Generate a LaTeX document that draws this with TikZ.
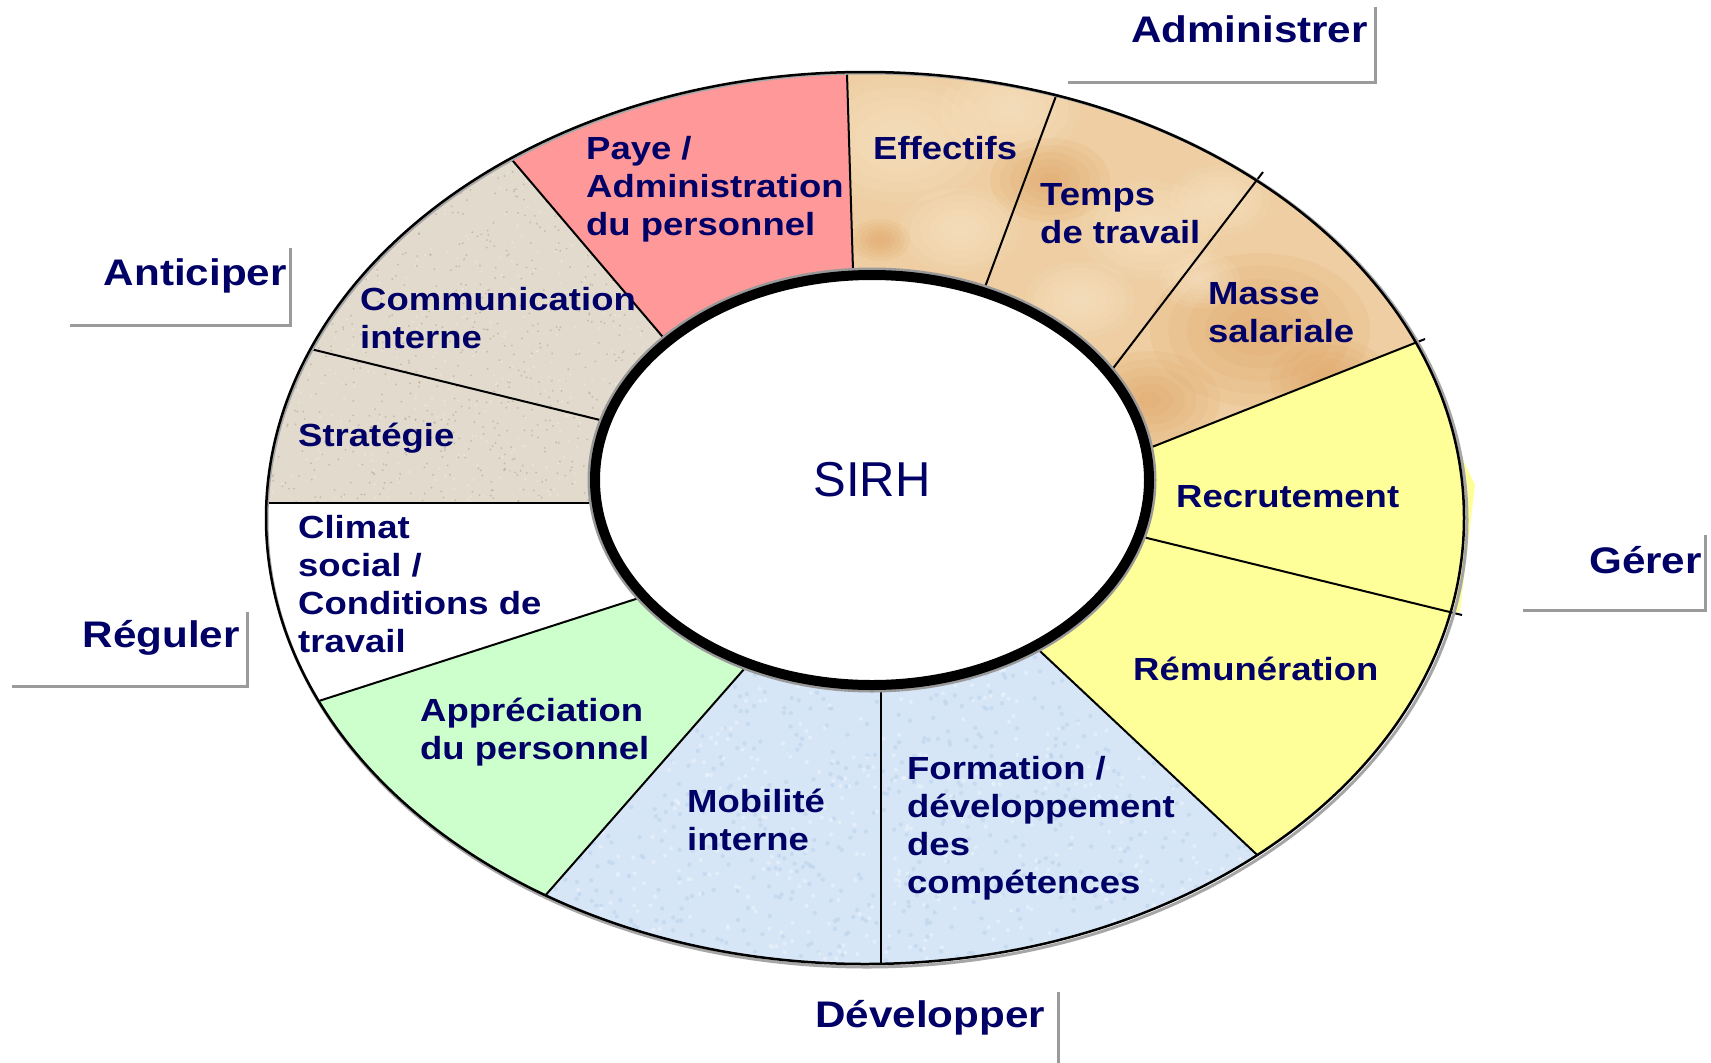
\documentclass[tikz,border=0pt]{standalone}
\usepackage{fontspec}
\usepackage{pdfrender}
\setmainfont{Liberation Sans}
\newfontfamily\heavyfont{Liberation Sans}[UprightFont={* Bold},FakeStretch=1.14]
\usetikzlibrary{calc}

\definecolor{labelblue}{RGB}{0,0,102}
\definecolor{payepink}{RGB}{255,153,153}
\definecolor{gereryellow}{RGB}{255,255,153}
\definecolor{apprgreen}{RGB}{204,255,204}
\definecolor{devblue}{RGB}{214,230,246}
\definecolor{devbluedark}{RGB}{188,210,236}
\definecolor{devbluelight}{RGB}{238,245,252}
\definecolor{granite}{RGB}{226,218,204}
\definecolor{granitedark}{RGB}{170,160,142}
\definecolor{granitelight}{RGB}{240,235,226}
\definecolor{tanbase}{RGB}{238,206,162}
\definecolor{tanlight}{RGB}{250,234,208}
\definecolor{tandark}{RGB}{222,160,96}
\definecolor{framegray}{RGB}{155,155,155}

% multi-line label whose baseline is the first line
\newcommand\linesof[1]{\begin{tabular}[t]{@{}l@{}}#1\end{tabular}}
% soft blob: x, y, radius, colour
\newcommand\softblob[4]{%
  \foreach \s in {1,...,6}{%
    \pgfmathsetmacro\rr{#3*\s/6}%
    \fill[#4,opacity=0.12] (#1,#2) ellipse [x radius=\rr pt, y radius=0.7*\rr pt];}}
% random speckles: count, x0, y0, width, height, colour, radius
\newcommand\speckles[7]{%
  \foreach \k in {1,...,#1}{%
    \pgfmathsetmacro\px{#2+#4*rnd}%
    \pgfmathsetmacro\py{#3+#5*rnd}%
    \fill[#6,opacity=.55] (\px,\py) circle (#7);}}

\begin{document}
\begin{tikzpicture}[x=1pt,y=-1pt,
  seglabel/.style={font=\heavyfont\fontsize{32}{38}\selectfont\pdfrender{TextRenderingMode=FillStroke,LineWidth=1.5pt,LineJoinStyle=Round},
    text=labelblue,inner sep=0pt,anchor=base west},
  verb/.style={font=\heavyfont\fontsize{37}{44}\selectfont\pdfrender{TextRenderingMode=FillStroke,LineWidth=1.7pt,LineJoinStyle=Round},
    text=labelblue,inner sep=0pt},
  frameline/.style={draw=framegray,line width=3pt},
  divider/.style={draw=black,line width=2pt}]

\useasboundingbox (0,0) rectangle (1711,1063);
\fill[white] (0,0) rectangle (1711,1063);

% ring geometry
\coordinate (oc) at (865,518);   % outer centre
\coordinate (c) at (872,480);    % inner centre

% dividers: inner end (i) and outer end (o)
\coordinate (d1i) at (853,270);  \coordinate (d1o) at (847,74);
\coordinate (d2i) at (985,287);  \coordinate (d2o) at (1056,96);
\coordinate (d3i) at (1111,371); \coordinate (d3o) at (1263,172);
\coordinate (d4i) at (1152,447); \coordinate (d4o) at (1425,339);
\coordinate (d5i) at (1147,538); \coordinate (d5o) at (1462,615);
\coordinate (d6i) at (1042,653); \coordinate (d6o) at (1253,851);
\coordinate (d7i) at (881,691);  \coordinate (d7o) at (881,962);
\coordinate (d8i) at (745,668);  \coordinate (d8o) at (551,889);
\coordinate (d9i) at (642,597);  \coordinate (d9o) at (325,699);
\coordinate (d10i) at (593,503); \coordinate (d10o) at (268,503);
\coordinate (d11i) at (600,420); \coordinate (d11o) at (327,353);
\coordinate (d12i) at (662,336); \coordinate (d12o) at (513,161);

\foreach \n in {1,...,12}{\coordinate (d\n f) at ($(d\n i)!4!(d\n o)$);}

% yellow spill on the right rim
\fill[gereryellow] (1410,345) -- (1475,485) -- (1460,612) -- (1400,612) -- (1400,345) -- cycle;

\begin{scope}
  \clip (oc) ellipse [x radius=599pt, y radius=446pt];
  % Paye
  \fill[payepink] (d12i) -- (d12f) -- (d1f) -- (d1i) -- (c) -- cycle;
  % Administrer group
  \begin{scope}
    \clip (d1i) -- (d1f) -- (d2f) -- (d3f) -- (d4f) -- (d4i) -- (c) -- cycle;
    \fill[tanbase] (800,40) rectangle (1480,520);
    \softblob{900}{140}{90}{tanlight}
    \softblob{1010}{110}{70}{tanlight}
    \softblob{960}{230}{60}{tanlight}
    \softblob{1150}{230}{70}{tanlight}
    \softblob{1220}{200}{50}{tanlight}
    \softblob{1080}{300}{55}{tanlight}
    \softblob{1260}{330}{110}{tandark}
    \softblob{1150}{400}{70}{tandark}
    \softblob{1050}{180}{60}{tandark}
    \softblob{880}{240}{30}{tandark}
    \softblob{1330}{380}{60}{tandark}
    \softblob{1200}{280}{40}{tanlight}
  \end{scope}
  % Gerer group
  \fill[gereryellow] (d4i) -- (d4f) -- (d5f) -- (d6f) -- (d6i) -- (c) -- cycle;
  % Developper group
  \begin{scope}
    \clip (d6i) -- (d6f) -- (d7f) -- (d8f) -- (d8i) -- (c) -- cycle;
    \fill[devblue] (450,600) rectangle (1350,1000);
    \pgfmathsetseed{7}
    \speckles{900}{480}{620}{800}{360}{devbluedark}{2.2pt}
    \speckles{700}{480}{620}{800}{360}{devbluelight}{2pt}
  \end{scope}
  % Appreciation
  \fill[apprgreen] (d8i) -- (d8f) -- (d9f) -- (d9i) -- (c) -- cycle;
  % Anticiper group
  \begin{scope}
    \clip (d10i) -- (d10f) -- (d11f) -- (d12f) -- (d12i) -- (c) -- cycle;
    \fill[granite] (240,100) rectangle (700,520);
    \pgfmathsetseed{3}
    \speckles{1000}{250}{130}{450}{390}{granitedark}{1pt}
    \speckles{600}{250}{130}{450}{390}{granitelight}{1.3pt}
  \end{scope}
  % dividers reaching the rim
  \foreach \n in {1,2,6,7,8,9,10,11,12}{
    \draw[divider] ($(d\n i)!-0.05!(d\n o)$) -- ($(d\n i)!1.2!(d\n o)$);}
\end{scope}

% dividers with a small tick past the rim
\foreach \n in {3,4,5}{
  \draw[divider] ($(d\n i)!-0.05!(d\n o)$) -- (d\n o);}

% outer rim
\draw[line width=3pt,draw=black!35] ($(oc)+(2,2)$) ellipse [x radius=600pt, y radius=447pt];
\draw[line width=2.5pt] (oc) ellipse [x radius=599pt, y radius=446pt];

% inner hub
\fill[white] (c) ellipse [x radius=277pt, y radius=205pt];
\draw[line width=3pt,draw=black!40] (c) ellipse [x radius=283pt, y radius=211pt];
\draw[line width=10pt] (c) ellipse [x radius=277pt, y radius=205pt];
\node[font=\fontsize{49}{56}\selectfont,text=labelblue,inner sep=0pt] (sirh) at (c) {SIRH};

% segment labels
\node[seglabel] (paye) at (586,159) {\linesof{Paye /\\Administration\\du personnel}};
\node[seglabel] (effectifs) at (873,159) {Effectifs};
\node[seglabel] (temps) at (1040,205) {\linesof{Temps\\de travail}};
\node[seglabel] (masse) at (1208,304) {\linesof{Masse\\salariale}};
\node[seglabel] (recrutement) at (1176,507) {Recrutement};
\node[seglabel] (remuneration) at (1133,680) {Rémunération};
\node[seglabel] (formation) at (907,779) {\linesof{Formation /\\développement\\des\\compétences}};
\node[seglabel] (mobilite) at (687,812) {\linesof{Mobilité\\interne}};
\node[seglabel] (appreciation) at (420,721) {\linesof{Appréciation\\du personnel}};
\node[seglabel] (climat) at (298,538) {\linesof{Climat\\social /\\Conditions de\\travail}};
\node[seglabel] (strategie) at (298,446) {Stratégie};
\node[seglabel] (communication) at (360,310) {\linesof{Communication\\interne}};

% outer verbs with their frame corners
\node[verb,anchor=base east] (administrer) at (1368,42) {Administrer};
\draw[frameline] (1068,82) -- (1375,82) -- (1375,7);
\node[verb,anchor=base east] (anticiper) at (287,285) {Anticiper};
\draw[frameline] (70,325) -- (290,325) -- (290,248);
\node[verb,anchor=base east] (gerer) at (1702,573) {Gérer};
\draw[frameline] (1523,610) -- (1705,610) -- (1705,535);
\node[verb,anchor=base east] (reguler) at (240,647) {Réguler};
\draw[frameline] (12,686) -- (247,686) -- (247,612);
\node[verb,anchor=base west] (developper) at (815,1027) {Développer};
\draw[frameline] (1058,992) -- (1058,1063);
\end{tikzpicture}
\end{document}
